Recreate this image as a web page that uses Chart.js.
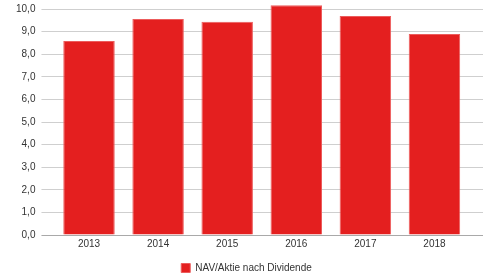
<!DOCTYPE html>
<html><head><meta charset="utf-8">
<script src="https://cdn.jsdelivr.net/npm/chart.js@4"></script>
<style>html,body{margin:0;padding:0;background:#fff}#wrap{width:491px;height:278px}</style>
</head><body><div id="wrap"><canvas id="c"></canvas></div>
<script>
const categories = ['2013','2014','2015','2016','2017','2018'];
const navValues = [8.58, 9.56, 9.44, 10.17, 9.69, 8.89];
const seriesLabel = 'NAV/Aktie nach Dividende';
const yTickStep = 1;
const yMax = 10;

const fmt = v => v.toFixed(1).replace('.', ',');
Chart.defaults.font.family = "'Liberation Sans', Arial, sans-serif";
Chart.defaults.font.size = 10;
Chart.defaults.color = '#333';

new Chart(document.getElementById('c'), {
  type: 'bar',
  data: {
    labels: categories,
    datasets: [{
      label: seriesLabel,
      data: navValues,
      backgroundColor: '#e41f1f',
      borderColor: '#ec5c5c',
      borderWidth: 1,
      categoryPercentage: 1,
      barPercentage: 0.745,
      clip: false,
      yAxisID: 'y'
    }]
  },
  options: {
    responsive: true,
    maintainAspectRatio: false,
    animation: false,
    layout: { padding: { top: 9, right: 8, left: 10, bottom: -5 } },
    plugins: {
      legend: {
        position: 'bottom',
        labels: { boxWidth: 9, boxHeight: 9, padding: 0, color: '#333' }
      },
      tooltip: { enabled: false }
    },
    scales: {
      x: {
        grid: { display: false, drawTicks: false },
        border: { display: false },
        ticks: { padding: 3, color: '#333' },
        afterFit: s => { s.height = 28; }
      },
      y: {
        min: 0, max: yMax,
        border: { display: false },
        grid: {
          color: ctx => ctx.tick && ctx.tick.value === 0 ? '#a9a9a9' : '#cfcfcf',
          lineWidth: 1,
          tickLength: 13
        },
        ticks: { stepSize: yTickStep, padding: 6, callback: v => fmt(v), color: '#333' },
        afterFit: s => { s.paddingTop = 0; }
      },
      y2: {
        position: 'right',
        min: 0, max: yMax,
        border: { display: false },
        grid: {
          drawOnChartArea: false,
          color: ctx => ctx.tick && ctx.tick.value === 0 ? '#a9a9a9' : '#cfcfcf',
          tickLength: 14
        },
        ticks: { stepSize: yTickStep, display: false },
        afterFit: s => { s.paddingTop = 0; }
      }
    }
  }
});
</script></body></html>
